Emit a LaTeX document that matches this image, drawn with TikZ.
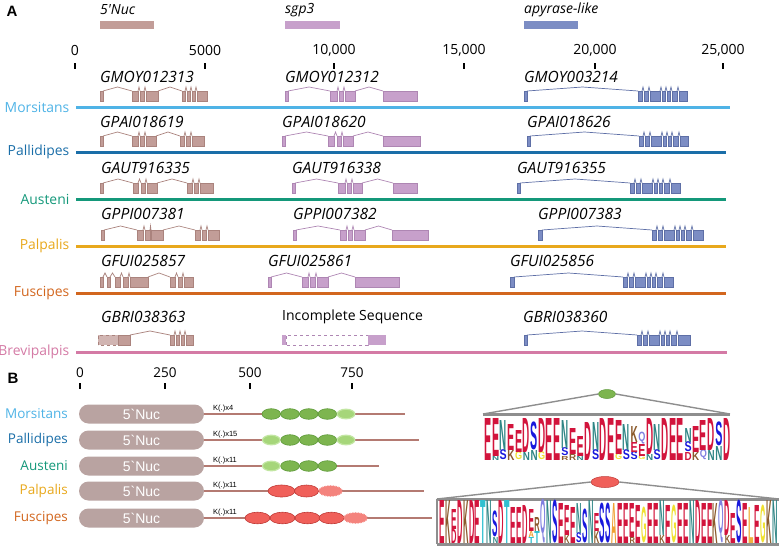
\documentclass[tikz,border=0pt]{standalone}
\usepackage{fontspec}
\usepackage{graphicx}
\setmainfont{Open Sans}
\newfontfamily\arialf{Liberation Sans}
\usetikzlibrary{shapes.geometric,decorations.pathmorphing}

\definecolor{nucF}{HTML}{C29D98}
\definecolor{nucD}{HTML}{AA837D}
\definecolor{sgpF}{HTML}{C7A0CB}
\definecolor{sgpD}{HTML}{AE86B3}
\definecolor{apyF}{HTML}{7C8DC4}
\definecolor{apyD}{HTML}{5E6FA6}
\definecolor{cMor}{HTML}{4FB3E6}
\definecolor{cPal}{HTML}{1A6EA8}
\definecolor{cAus}{HTML}{14987A}
\definecolor{cPlp}{HTML}{E8A81C}
\definecolor{cFus}{HTML}{D2661E}
\definecolor{cBre}{HTML}{D47AA5}
\definecolor{boxF}{HTML}{B9A3A1}
\definecolor{protL}{HTML}{B47A72}
\definecolor{gF}{HTML}{7DB54F}
\definecolor{gD}{HTML}{5E9A3A}
\definecolor{gL}{HTML}{A6D67A}
\definecolor{gLD}{HTML}{C2E6A2}
\definecolor{rF}{HTML}{F0605A}
\definecolor{rD}{HTML}{C03A36}
\definecolor{rL}{HTML}{F4837D}
\definecolor{lgGr}{HTML}{8E8E8E}
\definecolor{cE}{HTML}{D2143C}
\definecolor{cN}{HTML}{2E8585}
\definecolor{cS}{HTML}{1818DC}
\definecolor{cK}{HTML}{8B5A2B}
\definecolor{cQ}{HTML}{8080E0}
\definecolor{cG}{HTML}{F0E030}
\definecolor{cT}{HTML}{30C0D0}
\definecolor{cA}{HTML}{F0A030}
\definecolor{cL}{HTML}{F0B040}

\newcounter{lgn}
% gene structure: fill, draw, base y, list of exon start/end
\newcommand\genedraw[4]{%
  \gdef\gprev{}%
  \foreach \ga/\gb in {#4}{%
    \ifx\gprev\empty\else
      \draw[#2, line width=0.7pt] (\gprev,#3-10) -- ({(\gprev+\ga)/2},#3-14) -- (\ga,#3-10);
    \fi
    \filldraw[fill=#1, draw=#2, line width=0.5pt] (\ga,#3) rectangle (\gb,#3-10);
    \xdef\gprev{\gb}%
  }}
% logo column
\newcommand\logocol[2]{%
  \pgfmathsetmacro\lcx{\logoXo+\logoDx*(#1-0.5)}%
  \xdef\cury{\logoBase}%
  \foreach \lgL/\lgC/\lgH in {#2}{%
    \stepcounter{lgn}%
    \edef\lgname{lg\arabic{lgn}}%
    \node[lgl, text=\lgC] (\lgname) at (\lcx,\cury) {\resizebox*{\logoW pt}{\lgH pt}{\lgL}};
    \pgfmathsetmacro\tmpy{\cury-\lgH}\xdef\cury{\tmpy}%
  }}

\begin{document}
\begin{tikzpicture}[x=1pt,y=-1pt,
  sp/.style={anchor=east, font=\fontsize{13.9}{16}\selectfont, inner sep=0pt},
  gl/.style={anchor=west, font=\fontsize{15.5}{17}\selectfont\itshape, inner sep=0pt},
  legl/.style={anchor=west, font=\fontsize{14}{16}\selectfont\itshape, inner sep=0pt},
  ax/.style={font=\fontsize{14}{16}\selectfont, inner sep=0pt},
  tickln/.style={line width=1.3pt},
  spline/.style={line width=3pt},
  panel/.style={font=\arialf\bfseries\fontsize{15}{16}\selectfont, inner sep=0pt},
  nucbox/.style={fill=boxF, rounded corners=9.5pt, minimum width=125pt, minimum height=19pt, inner sep=0pt, text=white, font=\arialf\fontsize{14}{16}\selectfont},
  protline/.style={draw=protL, line width=1.3pt},
  klab/.style={anchor=south west, inner sep=0pt, font=\arialf\fontsize{7.5}{8}\selectfont},
  gsolid/.style={fill=gF, draw=gD, line width=0.6pt},
  glight/.style={fill=gL, draw=gLD, line width=1.2pt},
  rsolid/.style={fill=rF, draw=rD, line width=0.6pt},
  rfuzz/.style={fill=rL, decorate, decoration={bumps, segment length=3pt, amplitude=1.3pt}},
  lgl/.style={anchor=south, inner sep=0pt, outer sep=0pt, font=\arialf\bfseries},
  lgline/.style={draw=lgGr, line width=1.4pt},
  lgbar/.style={draw=lgGr, line width=3pt}
]
\useasboundingbox (0,0) rectangle (779,546);

% ================= Panel A =================
\node[panel] (pA) at (12,11) {A};
\node[legl] (leg1) at (100,10) {5\textquotesingle Nuc};
\node[legl] (leg2) at (285,10) {sgp3};
\node[legl] (leg3) at (524,10) {apyrase-like};
\fill[nucF] (100,21) rectangle (154,29);
\fill[sgpF] (285,21) rectangle (340,29);
\fill[apyF] (524,21) rectangle (578,29);

% axis
\foreach \xv/\lab [count=\i] in {75/0,205/5000,334/{10,000},464/{15,000},595/{20,000},723/{25,000}}{
  \node[ax] (axl\i) at (\xv,50) {\lab};
  \coordinate (axt\i) at (\xv,63);
  \coordinate (axb\i) at (\xv,69);
  \draw[tickln] (axt\i) -- (axb\i);
}

% species lines
\foreach \nm/\yy/\col/\xe [count=\i] in {Morsitans/107/cMor/730,Pallidipes/152/cPal/726,Austeni/199/cAus/726,Palpalis/246/cPlp/726,Fuscipes/293/cFus/726,Brevipalpis/352/cBre/727}{
  \node[sp, text=\col] (spn\i) at (69.5,\yy) {\nm};
  \coordinate (spa\i) at (76,\yy);
  \coordinate (spb\i) at (\xe,\yy);
  \draw[spline, \col] (spa\i) -- (spb\i);
}

% gene labels
\node[gl] (g1) at (100,77) {GMOY012313};
\node[gl] (g2) at (285,77) {GMOY012312};
\node[gl] (g3) at (524,77) {GMOY003214};
\node[gl] (g4) at (100,122) {GPAI018619};
\node[gl] (g5) at (282,122) {GPAI018620};
\node[gl] (g6) at (527,122) {GPAI018626};
\node[gl] (g7) at (101,168) {GAUT916335};
\node[gl] (g8) at (292,168) {GAUT916338};
\node[gl] (g9) at (517,168) {GAUT916355};
\node[gl] (g10) at (101,214) {GPPI007381};
\node[gl] (g11) at (293,214) {GPPI007382};
\node[gl] (g12) at (538,214) {GPPI007383};
\node[gl] (g13) at (101,261) {GFUI025857};
\node[gl] (g14) at (268,261) {GFUI025861};
\node[gl] (g15) at (510,261) {GFUI025856};
\node[gl] (g16) at (101,317) {GBRI038363};
\node[anchor=west, font=\fontsize{14}{16}\selectfont, inner sep=0pt] (g17) at (282,317) {Incomplete Sequence};
\node[gl] (g18) at (523,317) {GBRI038360};

% gene structures
\genedraw{nucF}{nucD}{101}{100/103,132/138,140/144,146/158,182/185,187/190,192/195,197/207}
\genedraw{sgpF}{sgpD}{101}{285/288,330/337,339/343,345/355,383/417}
\genedraw{apyF}{apyD}{101}{524/527,638/642,644/648,650/660,662/665,667/670,672/677,679/687}

\genedraw{nucF}{nucD}{146}{100/103,132/138,140/144,146/156,180/184,186/190,192/204}
\genedraw{sgpF}{sgpD}{146}{282/285,328/334,337/341,343/353,383/420}
\genedraw{apyF}{apyD}{146}{527/530,639/643,645/649,651/661,663/666,668/671,673/678,680/688}

\genedraw{nucF}{nucD}{193}{100/103,133/138,141/145,147/157,187/192,194/198,200/213}
\genedraw{sgpF}{sgpD}{193}{292/295,338/345,347/351,353/362,393/417}
\genedraw{apyF}{apyD}{193}{517/520,630/634,636/640,642/652,654/657,659/662,664/669,671/680}

\genedraw{nucF}{nucD}{240}{101/104,137/143,145/150,151/163,195/200,202/206,208/219}
\genedraw{sgpF}{sgpD}{240}{293/296,340/346,348/352,354/365,392/428}
\genedraw{apyF}{apyD}{240}{538/542,652/656,658/662,664/674,676/679,681/684,686/691,693/703}

\genedraw{nucF}{nucD}{287}{100/103,107/110,115/120,123/128,130/148,170/175,178/182,184/193}
\genedraw{sgpF}{sgpD}{287}{268/271,302/308,310/315,317/328,355/399}
\genedraw{apyF}{apyD}{287}{510/514,623/627,629/633,635/645,647/650,652/655,657/662,664/673}

% Brevipalpis
\filldraw[fill=nucF!75, draw=nucD, dashed, line width=0.5pt] (98,345) rectangle (118,335);
\genedraw{nucF}{nucD}{345}{118/130,170/174,176/179,181/184,186/193}
\fill[sgpF] (282,345) rectangle (286,335);
\draw[sgpD, dashed, line width=0.6pt, fill=white] (286,345) rectangle (368,335);
\fill[sgpF] (368,345) rectangle (386,335);
\genedraw{apyF}{apyD}{345}{524/527,637/641,643/647,649/659,661/664,666/669,671/676,678/690}

% ================= Panel B =================
\node[panel] (pB) at (13,378) {B};
\foreach \xv/\lab [count=\i] in {80/0,165/250,250/500,352/750}{
  \node[ax, font=\fontsize{13.5}{16}\selectfont] (bxl\i) at (\xv,373) {\lab};
  \coordinate (bxt\i) at (\xv,383);
  \coordinate (bxb\i) at (\xv,389);
  \draw[tickln] (bxt\i) -- (bxb\i);
}

\foreach \nm/\yy/\ex/\col/\kk [count=\i] in {Morsitans/414/405/cMor/4,Pallidipes/440/419/cPal/15,Austeni/466/379/cAus/11,Palpalis/491/424/cPlp/11,Fuscipes/518/432/cFus/11}{
  \node[sp, text=\col, font=\fontsize{13.5}{16}\selectfont] (bn\i) at (68,\yy) {\nm};
  \coordinate (be\i) at (\ex,\yy);
  \draw[protline] (200,\yy) -- (be\i);
  \node[nucbox] (bx\i) at (141.5,\yy) {5\symbol{96}Nuc};
  \node[klab] (bk\i) at (213,\yy-2) {K(.)x\kk};
}

% green repeats
\foreach \cx in {290,308.7,327.4}{
  \filldraw[gsolid] (\cx,414) ellipse (9.3 and 5.3);
  \filldraw[gsolid] (\cx,440) ellipse (9.3 and 5.3);
  \filldraw[gsolid] (\cx,466) ellipse (9.3 and 5.3);
}
\filldraw[gsolid] (271.3,414) ellipse (9.3 and 5.3);
\filldraw[glight] (346,414) ellipse (8.8 and 4.8);
\filldraw[glight] (271.3,440) ellipse (8.8 and 4.8);
\filldraw[glight] (346,440) ellipse (8.8 and 4.8);
\filldraw[glight] (271.3,466) ellipse (8.8 and 4.8);

% red repeats
\filldraw[rsolid] (281.5,491) ellipse (13.5 and 6);
\filldraw[rsolid] (306.5,491) ellipse (12 and 6);
\fill[rfuzz] (330.5,491) ellipse (11 and 4.6);
\foreach \cx in {257.5,282.5,307.5,331.5}{
  \filldraw[rsolid] (\cx,518) ellipse (12.5 and 5.8);
}
\fill[rfuzz] (355.5,518) ellipse (11 and 4.6);

% logo 1 frame
\node[ellipse, fill=gF, draw=gD, line width=0.5pt, minimum width=17pt, minimum height=9pt, inner sep=0pt] (le1) at (607,394) {};
\coordinate (t1L) at (483,414);
\coordinate (t1R) at (730,414);
\draw[lgline] (le1.west) -- (t1L);
\draw[lgline] (le1.east) -- (t1R);
\draw[lgbar] (t1L) -- (t1R);

% logo 2 frame
\node[ellipse, fill=rF, draw=rD, line width=0.5pt, minimum width=28pt, minimum height=11pt, inner sep=0pt] (le2) at (605,482) {};
\coordinate (t2L) at (437,499);
\coordinate (t2R) at (779,499);
\coordinate (b2L) at (437,544);
\coordinate (b2R) at (779,544);
\draw[lgline] (le2.west) -- (t2L);
\draw[lgline] (le2.east) -- (t2R);
\draw[lgbar] (t2L) -- (t2R);
\draw[lgbar] (b2L) -- (b2R);
\draw[draw=lgGr, line width=1.2pt] (t2L) -- (b2L);

% logo 1 letters
\def\logoXo{484}\def\logoDx{7.7}\def\logoBase{460}\def\logoW{7.1}
\logocol{1}{E/cE/42}
\logocol{2}{N/cN/4,E/cE/38}
\logocol{3}{S/cS/10,N/cN/30}
\logocol{4}{K/cK/10,E/cE/26}
\logocol{5}{G/cG/8,E/cE/22}
\logocol{6}{N/cN/8,D/cE/34}
\logocol{7}{N/cN/10,S/cS/28}
\logocol{8}{G/cG/8,D/cE/34}
\logocol{9}{E/cE/42}
\logocol{10}{E/cE/42}
\logocol{11}{R/cK/4,S/cS/8,N/cN/28}
\logocol{12}{R/cK/6,E/cE/26}
\logocol{13}{N/cN/4,E/cE/20}
\logocol{14}{D/cE/38}
\logocol{15}{S/cS/10,N/cN/28}
\logocol{16}{D/cE/42}
\logocol{17}{E/cE/42}
\logocol{18}{G/cG/6,E/cE/34}
\logocol{19}{S/cS/10,N/cN/26}
\logocol{20}{S/cS/8,E/cE/10,K/cK/16}
\logocol{21}{G/cG/4,E/cE/12,Q/cQ/12}
\logocol{22}{N/cN/6,D/cE/36}
\logocol{23}{S/cS/10,N/cN/26}
\logocol{24}{D/cE/42}
\logocol{25}{E/cE/42}
\logocol{26}{E/cE/42}
\logocol{27}{D/cE/8,S/cS/10,N/cN/14}
\logocol{28}{K/cK/8,E/cE/26}
\logocol{29}{Q/cQ/10,E/cE/30}
\logocol{30}{N/cN/10,D/cE/32}
\logocol{31}{N/cN/14,S/cS/24}
\logocol{32}{D/cE/42}

% logo 2 letters
\def\logoXo{439}\def\logoDx{5.95}\def\logoBase{543}\def\logoW{5.4}
\logocol{1}{E/cE/43}
\logocol{2}{K/cK/43}
\logocol{3}{D/cE/14,E/cE/20}
\logocol{4}{D/cE/43}
\logocol{5}{K/cK/43}
\logocol{6}{D/cE/43}
\logocol{7}{E/cE/43}
\logocol{8}{T/cT/43}
\logocol{9}{N/cN/43}
\logocol{10}{N/cN/6,S/cS/26}
\logocol{11}{D/cE/43}
\logocol{12}{T/cT/43}
\logocol{13}{E/cE/36}
\logocol{14}{E/cE/36}
\logocol{15}{D/cE/38}
\logocol{16}{T/cT/6,A/cA/6,E/cE/22}
\logocol{17}{T/cT/12,R/cK/14}
\logocol{18}{Q/cQ/44}
\logocol{19}{N/cN/43}
\logocol{20}{S/cS/43}
\logocol{21}{E/cE/40}
\logocol{22}{K/cK/8,E/cE/30}
\logocol{23}{E/cE/36}
\logocol{24}{S/cS/10,N/cN/30}
\logocol{25}{S/cS/34}
\logocol{26}{N/cN/43}
\logocol{27}{K/cK/12,E/cE/18}
\logocol{28}{S/cS/40}
\logocol{29}{S/cS/40}
\logocol{30}{A/cA/40}
\logocol{31}{E/cE/40}
\logocol{32}{E/cE/40}
\logocol{33}{R/cK/6,E/cE/34}
\logocol{34}{E/cE/38}
\logocol{35}{G/cG/36}
\logocol{36}{E/cE/40}
\logocol{37}{E/cE/40}
\logocol{38}{K/cK/8,N/cN/35}
\logocol{39}{E/cE/38}
\logocol{40}{G/cG/38}
\logocol{41}{E/cE/40}
\logocol{42}{E/cE/40}
\logocol{43}{N/cN/43}
\logocol{44}{D/cE/43}
\logocol{45}{E/cE/40}
\logocol{46}{E/cE/40}
\logocol{47}{K/cK/40}
\logocol{48}{Q/cQ/43}
\logocol{49}{K/cK/8,D/cE/35}
\logocol{50}{E/cE/30}
\logocol{51}{S/cS/43}
\logocol{52}{E/cE/40}
\logocol{53}{L/cL/36}
\logocol{54}{E/cE/38}
\logocol{55}{G/cG/38}
\logocol{56}{K/cK/43}
\logocol{57}{N/cN/43}
\end{tikzpicture}
\end{document}
